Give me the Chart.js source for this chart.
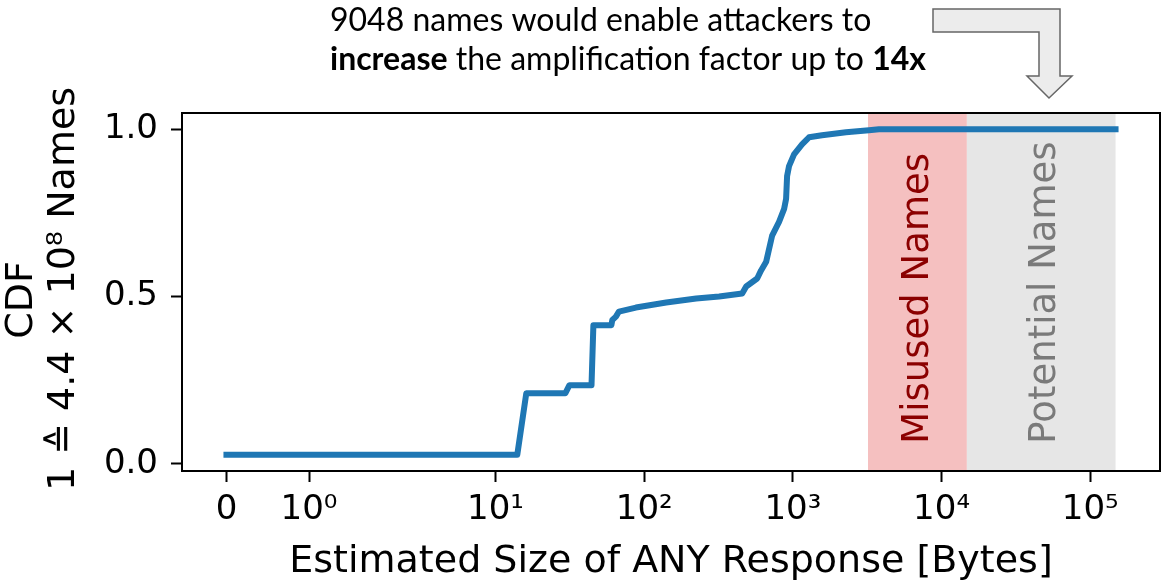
<!DOCTYPE html>
<html>
<head>
<meta charset="utf-8">
<script src="https://cdn.jsdelivr.net/npm/chart.js@4.4.1/dist/chart.umd.min.js"></script>
<style>
  html, body { margin: 0; padding: 0; background: #fff; }
  #wrap { width: 1163px; height: 581px; }
</style>
</head>
<body>
<div id="wrap"><canvas id="cdfChart"></canvas></div>
<script>
// valores
const sizeBytes = [0, 14.0, 16.1, 29.5, 31.4, 44.2, 45.5, 60.1, 61.0, 64.5, 67.6, 87.9, 140.6, 223.6, 319, 456, 485,
  575, 611, 661, 725, 807, 873, 900, 914, 942, 1018, 1152, 1284, 1570, 2276, 3246, 3790, 148000];
const cdfValues = [0.027, 0.027, 0.211, 0.211, 0.235, 0.235, 0.414, 0.414, 0.43, 0.44, 0.455, 0.467, 0.482, 0.494, 0.5, 0.509, 0.53,
  0.554, 0.578, 0.604, 0.682, 0.723, 0.762, 0.792, 0.86, 0.89, 0.925, 0.955, 0.976, 0.982, 0.991, 0.997, 1.0, 1.0];

const xTickValues = [0, 1, 10, 100, 1000, 10000, 100000];
const xTickLabels = ['0', '10⁰', '10¹', '10²', '10³', '10⁴', '10⁵'];
const yTickValues = [0, 0.5, 1];
const yTickLabels = ['0.0', '0.5', '1.0'];

const bandNames = ['Misused Names', 'Potential Names'];
const bandStart = [3200, 14800];
const bandEnd = [14800, 148000];
const bandLabelX = [7000, 50000];
const bandLabelY = [0.06, 0.06];

const noteLine1 = '9048 names would enable attackers to';
const noteLine2 = ['increase', ' the amplification factor up to ', '14x'];
const noteLine2Bold = [true, false, true];

// escala symlog igual a do matplotlib (linthresh 2, linscale 1)
const LINTHRESH = 2;
const LINSCALE_ADJ = 1 / (1 - 1 / 10);

function symlog(v) {
  const a = Math.abs(v);
  const t = a <= LINTHRESH ? a / LINTHRESH * LINSCALE_ADJ : LINSCALE_ADJ + Math.log10(a / LINTHRESH);
  return v < 0 ? -t : t;
}

function symexp(t) {
  const a = Math.abs(t);
  const v = a <= LINSCALE_ADJ ? a / LINSCALE_ADJ * LINTHRESH : LINTHRESH * Math.pow(10, a - LINSCALE_ADJ);
  return t < 0 ? -v : v;
}

class SymlogScale extends Chart.LinearScale {
  static id = 'symlog';
  static defaults = {};

  determineDataLimits() {
    super.determineDataLimits();
    // margem de 5% no espaco transformado
    const lo = symlog(this.min);
    const hi = symlog(this.max);
    const pad = (hi - lo) * 0.05;
    this.min = symexp(lo - pad);
    this.max = symexp(hi + pad);
  }

  buildTicks() {
    return xTickValues.map(v => ({ value: v }));
  }

  configure() {
    super.configure();
    this._tStart = symlog(this.min);
    this._tRange = symlog(this.max) - this._tStart;
  }

  getPixelForValue(value) {
    return this.getPixelForDecimal((symlog(value) - this._tStart) / this._tRange);
  }

  getValueForPixel(pixel) {
    return symexp(this._tStart + this.getDecimalForPixel(pixel) * this._tRange);
  }
}
Chart.register(SymlogScale);

const FONT = 'DejaVu Sans';

// faixas, textos, moldura e anotacao
const decoracao = {
  id: 'decoracao',
  beforeDatasetsDraw(chart) {
    const { ctx, chartArea, scales } = chart;
    const cores = ['#f5c0c0', '#e6e6e6'];
    const coresTexto = ['#8b0000', '#7a7a7a'];
    ctx.save();
    for (let i = 0; i < bandNames.length; i++) {
      const x0 = scales.x.getPixelForValue(bandStart[i]);
      const x1 = scales.x.getPixelForValue(bandEnd[i]);
      ctx.fillStyle = cores[i];
      ctx.fillRect(x0, chartArea.top, x1 - x0, chartArea.bottom - chartArea.top);
    }
    for (let i = 0; i < bandNames.length; i++) {
      ctx.save();
      ctx.translate(scales.x.getPixelForValue(bandLabelX[i]), scales.y.getPixelForValue(bandLabelY[i]));
      ctx.rotate(-Math.PI / 2);
      ctx.font = '37px "' + FONT + '"';
      ctx.fillStyle = coresTexto[i];
      ctx.textAlign = 'left';
      ctx.textBaseline = 'middle';
      ctx.fillText(bandNames[i], 0, 0);
      ctx.restore();
    }
    ctx.restore();
  },
  afterDatasetsDraw(chart) {
    const { ctx, chartArea } = chart;
    ctx.save();
    ctx.strokeStyle = '#000';
    ctx.lineWidth = 2;
    ctx.strokeRect(chartArea.left, chartArea.top, chartArea.right - chartArea.left, chartArea.bottom - chartArea.top);
    ctx.restore();
  },
  afterDraw(chart) {
    const { ctx, chartArea } = chart;
    const meio = (chartArea.top + chartArea.bottom) / 2;

    // titulo do eixo y (duas linhas)
    ctx.save();
    ctx.fillStyle = '#000';
    ctx.font = '38px "' + FONT + '"';
    ctx.textAlign = 'center';
    ctx.textBaseline = 'middle';
    ctx.translate(22, meio + 8);
    ctx.rotate(-Math.PI / 2);
    ctx.fillText('CDF', 0, 0);
    ctx.restore();

    ctx.save();
    ctx.fillStyle = '#000';
    ctx.font = '38px "' + FONT + '"';
    ctx.textAlign = 'center';
    ctx.textBaseline = 'middle';
    ctx.translate(64, meio - 3);
    ctx.rotate(-Math.PI / 2);
    ctx.fillText('1 ≙ 4.4 × 10⁸ Names', 0, 0);
    ctx.restore();

    // anotacao no topo
    ctx.save();
    ctx.fillStyle = '#000';
    ctx.textBaseline = 'alphabetic';
    ctx.textAlign = 'left';
    ctx.font = '32px Lato';
    ctx.fillText(noteLine1, 330, 31);
    let x = 330;
    for (let i = 0; i < noteLine2.length; i++) {
      ctx.font = (noteLine2Bold[i] ? 'bold ' : '') + '32px Lato';
      ctx.fillText(noteLine2[i], x, 70);
      x += ctx.measureText(noteLine2[i]).width;
    }

    // seta dobrada
    const seta = [[933, 9], [1060, 9], [1060, 76], [1072, 76], [1049, 98], [1027, 76], [1039, 76], [1039, 32], [933, 32]];
    ctx.beginPath();
    ctx.moveTo(seta[0][0], seta[0][1]);
    for (let i = 1; i < seta.length; i++) ctx.lineTo(seta[i][0], seta[i][1]);
    ctx.closePath();
    ctx.fillStyle = '#ececec';
    ctx.fill();
    ctx.strokeStyle = '#666';
    ctx.lineWidth = 1.5;
    ctx.stroke();
    ctx.restore();
  }
};

const yLo = Math.min(...cdfValues);
const yHi = Math.max(...cdfValues);
const yPad = (yHi - yLo) * 0.05;

const pontos = sizeBytes.map((s, i) => ({ x: s, y: cdfValues[i] }));

const config = {
  type: 'line',
  data: {
    datasets: [{
      label: 'CDF',
      data: pontos,
      borderColor: '#1f77b4',
      backgroundColor: '#1f77b4',
      borderWidth: 6,
      borderCapStyle: 'square',
      borderJoinStyle: 'round',
      pointRadius: 0,
      tension: 0,
      fill: false
    }]
  },
  options: {
    responsive: true,
    maintainAspectRatio: false,
    animation: false,
    devicePixelRatio: 1,
    layout: { padding: { top: 113, right: 3, left: 0, bottom: 0 } },
    plugins: {
      legend: { display: false },
      tooltip: { enabled: false }
    },
    scales: {
      x: {
        type: 'symlog',
        grid: { display: true, drawOnChartArea: false, drawTicks: true, tickLength: 11, tickWidth: 2, tickColor: '#000' },
        border: { display: true, color: '#000', width: 2 },
        ticks: {
          autoSkip: false,
          maxRotation: 0,
          padding: 8,
          color: '#000',
          font: { family: FONT, size: 34 },
          callback: (v) => xTickLabels[xTickValues.indexOf(v)]
        },
        title: {
          display: true,
          text: 'Estimated Size of ANY Response [Bytes]',
          color: '#000',
          font: { family: FONT, size: 38 },
          padding: { top: 0, bottom: -4 }
        },
        afterFit: (scale) => { scale.height = 110; }
      },
      y: {
        type: 'linear',
        min: yLo - yPad,
        max: yHi + yPad,
        afterBuildTicks: (scale) => { scale.ticks = yTickValues.map(v => ({ value: v })); },
        grid: { display: true, drawOnChartArea: false, drawTicks: true, tickLength: 11, tickWidth: 2, tickColor: '#000' },
        border: { display: true, color: '#000', width: 2 },
        ticks: {
          padding: 13,
          color: '#000',
          font: { family: FONT, size: 34 },
          callback: (v) => yTickLabels[yTickValues.indexOf(v)]
        },
        afterFit: (scale) => { scale.width = 182; }
      }
    }
  },
  plugins: [decoracao]
};

let graficoCDF = new Chart(document.getElementById('cdfChart').getContext('2d'), config);
</script>
</body>
</html>
